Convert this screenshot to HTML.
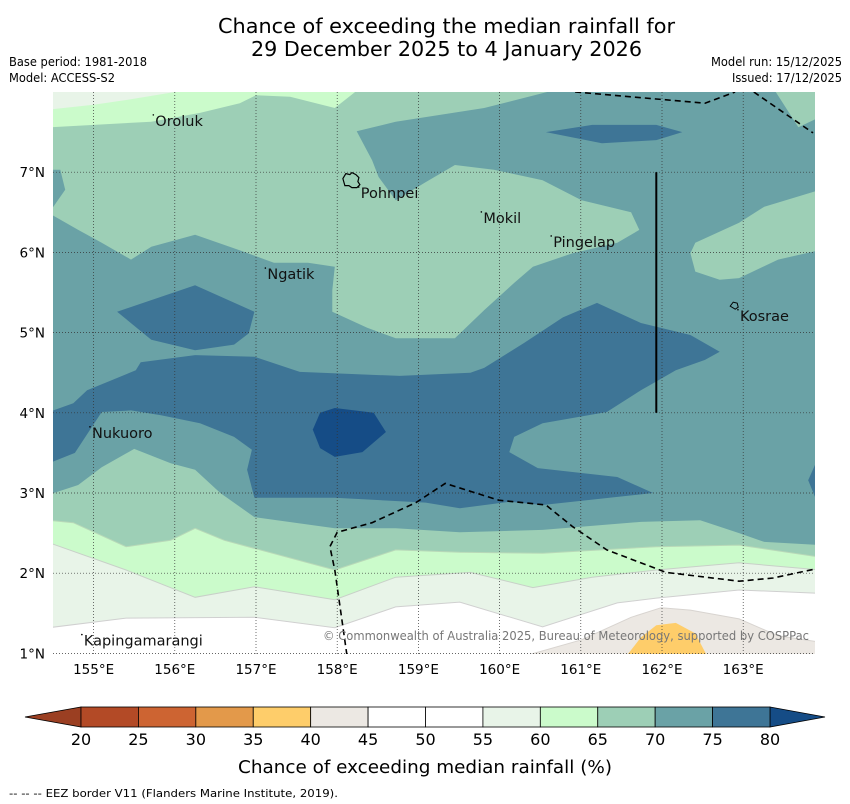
<!DOCTYPE html>
<html><head><meta charset="utf-8">
<style>
html,body{margin:0;padding:0;background:#fff;}
svg{display:block;font-family:"DejaVu Sans","Liberation Sans",sans-serif;}
</style></head>
<body>
<svg id="chart" width="850" height="804" viewBox="0 0 850 804">
<defs><clipPath id="mapclip"><rect x="53" y="92" width="762" height="562"/></clipPath></defs>
<text x="218" y="33" textLength="457" lengthAdjust="spacingAndGlyphs" font-size="20" fill="#000">Chance of exceeding the median rainfall for</text>
<text x="251" y="56" textLength="391" lengthAdjust="spacingAndGlyphs" font-size="20" fill="#000">29 December 2025 to 4 January 2026</text>
<text x="9" y="66" textLength="138" lengthAdjust="spacingAndGlyphs" font-size="12" fill="#000">Base period: 1981-2018</text>
<text x="9" y="82" textLength="106" lengthAdjust="spacingAndGlyphs" font-size="12" fill="#000">Model: ACCESS-S2</text>
<text x="711" y="66" textLength="131" lengthAdjust="spacingAndGlyphs" font-size="12" fill="#000">Model run: 15/12/2025</text>
<text x="732" y="82" textLength="110" lengthAdjust="spacingAndGlyphs" font-size="12" fill="#000">Issued: 17/12/2025</text>
<g id="map" clip-path="url(#mapclip)"></g>
<g id="overlay"></g>
<g id="cbar"></g>
<text x="238" y="773" textLength="374" lengthAdjust="spacingAndGlyphs" font-size="18" fill="#000">Chance of exceeding median rainfall (%)</text>
<text x="9" y="797" textLength="329" lengthAdjust="spacingAndGlyphs" font-size="11" fill="#000">--  --  -- EEZ border V11 (Flanders Marine Institute, 2019).</text>
</svg>
<script>
// ---- data ----
const lonTicks = [155,156,157,158,159,160,161,162,163];
const latTicks = [1,2,3,4,5,6,7];
const cbLevels = [20,25,30,35,40,45,50,55,60,65,70,75,80];
const cbColors = ["#b34a26","#cd6432","#e3994a","#fecd6a","#ece8e3","#ffffff","#ffffff","#e8f4e8","#cbfbcb","#9dcfb6","#6aa2a6","#3e7596"];
const cbUnder = "#9b3f22";
const cbOver = "#154c86";
const band70Base = "#6aa2a6";
const band65Top = [[154.5,8.05],[160.78,8.05],[159.81,7.80],[158.72,7.63],[158.24,7.51],[158.43,7.15],[158.51,6.94],[158.72,6.65],[159.08,6.87],[159.45,7.09],[159.93,7.03],[160.53,6.90],[161.01,6.65],[161.62,6.50],[161.72,6.28],[161.45,6.12],[160.90,5.99],[160.41,5.82],[160.18,5.62],[159.81,5.28],[159.45,4.93],[158.72,4.93],[158.37,5.06],[157.94,5.26],[157.94,5.53],[157.97,5.82],[157.64,5.87],[157.22,5.87],[156.79,6.03],[156.25,6.22],[155.71,6.07],[155.46,5.91],[155.10,6.12],[154.81,6.28],[154.45,6.49],[154.65,6.78],[154.59,7.03],[154.45,7.03]];
const band65Right = [[163.95,6.78],[163.26,6.57],[162.95,6.37],[162.41,6.12],[162.35,5.99],[162.41,5.76],[162.71,5.66],[162.95,5.68],[163.43,5.91],[163.95,6.03]];
const band65Corner = [[163.37,8.05],[163.68,7.56],[163.95,7.69],[163.95,8.05]];
const band60TopLeft = [[154.45,8.05],[158.22,8.05],[158.22,8.0],[157.97,7.80],[157.42,7.94],[157.00,7.96],[156.80,7.86],[156.31,7.74],[155.71,7.63],[154.45,7.56]];
const band55TopLeft = [[154.45,8.05],[156.0,8.05],[156.0,8.0],[155.4,7.90],[155.0,7.84],[154.45,7.78]];
const band75Top = [[160.57,7.50],[161.14,7.59],[161.93,7.59],[162.25,7.50],[161.93,7.40],[161.26,7.36]];
const band75Left = [[155.29,5.26],[156.25,5.59],[156.98,5.26],[156.91,4.99],[156.73,4.85],[156.25,4.78],[155.71,4.91]];
const band75Main = [[154.45,4.01],[154.75,4.12],[154.92,4.28],[155.52,4.53],[155.58,4.63],[156.25,4.72],[156.98,4.70],[157.54,4.51],[158.77,4.46],[159.64,4.50],[159.81,4.56],[160.30,4.87],[160.78,5.19],[161.20,5.37],[161.74,5.12],[162.35,4.97],[162.71,4.76],[162.53,4.66],[162.17,4.53],[161.74,4.28],[161.32,4.01],[160.53,3.87],[160.18,3.70],[160.12,3.51],[160.47,3.31],[161.45,3.20],[161.89,3.00],[160.53,2.85],[160.12,2.89],[159.51,2.81],[159.09,2.88],[157.97,2.94],[156.98,2.94],[156.89,3.29],[156.95,3.54],[156.73,3.70],[156.31,3.87],[155.83,3.97],[155.46,4.03],[155.10,4.01],[154.77,3.50],[154.45,3.37]];
const band75Edge = [[163.95,3.50],[163.80,3.16],[163.95,2.79]];
const band80 = [[157.70,3.79],[157.79,4.00],[157.97,4.06],[158.45,4.00],[158.60,3.76],[158.31,3.51],[157.97,3.45],[157.79,3.56]];
const low65 = [[154.45,2.98],[154.81,3.10],[155.10,3.32],[155.50,3.55],[155.95,3.37],[156.25,3.29],[156.56,3.00],[156.98,2.70],[157.97,2.56],[158.72,2.56],[159.51,2.51],[160.53,2.54],[161.74,2.64],[162.47,2.66],[162.95,2.50],[163.26,2.39],[163.95,2.35],[163.95,0.9],[154.45,0.9]];
const low60 = [[154.45,2.66],[154.75,2.63],[155.40,2.33],[155.95,2.41],[156.25,2.56],[156.61,2.41],[157.97,2.04],[158.72,2.29],[159.51,2.26],[160.53,2.25],[161.93,2.33],[162.95,2.35],[163.95,2.20],[163.95,0.9],[154.45,0.9]];
const low55 = [[154.45,2.38],[155.40,2.04],[156.25,1.70],[156.98,1.83],[157.97,1.67],[158.72,1.95],[159.64,2.01],[160.41,1.82],[161.14,1.95],[161.93,2.04],[162.95,2.13],[163.95,2.04],[163.95,0.9],[154.45,0.9]];
const low45 = [[154.45,1.32],[155.40,1.44],[156.98,1.45],[157.97,1.32],[158.72,1.58],[159.51,1.64],[160.53,1.33],[161.45,1.63],[161.93,1.69],[162.95,1.79],[163.95,1.75],[163.95,0.9],[154.45,0.9]];
const low40 = [[160.35,0.9],[160.35,0.98],[161.01,1.17],[161.62,1.45],[161.99,1.57],[162.35,1.54],[162.95,1.43],[163.43,1.22],[163.95,1.14],[163.95,0.9]];
const low35 = [[161.51,0.9],[161.74,1.20],[161.93,1.35],[162.17,1.38],[162.41,1.25],[162.59,0.9]];
const eezTop = [[160.93,8.0],[162.53,7.86],[162.9,8.0]];
const eezRight = [[163.13,8.0],[163.86,7.49]];
const eezLower = [[158.12,0.98],[157.97,2.04],[157.91,2.33],[158.00,2.51],[158.43,2.63],[158.97,2.88],[159.33,3.12],[159.99,2.91],[160.57,2.85],[160.90,2.58],[161.32,2.29],[162.05,2.01],[162.95,1.90],[163.37,1.94],[163.92,2.06]];
const boundaryLine = [[161.93,7.0],[161.93,4.0]];
const placeNames = ["Oroluk","Pohnpei","Mokil","Pingelap","Ngatik","Kosrae","Nukuoro","Kapingamarangi"];
const placeLon = [155.76,158.29,159.80,160.66,157.14,162.96,154.98,154.88];
const placeLat = [7.64,6.74,6.43,6.13,5.73,5.21,3.75,1.16];

// ---- axes ----
const X = lon => 53 + (lon - 154.5) * 81.2;
const Y = lat => 92 + (8 - lat) * 80.2;
const CB = lv => 81 + (lv - 20) / 60 * 689;
const NS = "http://www.w3.org/2000/svg";
function mk(tag, attrs, parent){const e=document.createElementNS(NS,tag);for(const k in attrs)e.setAttribute(k,attrs[k]);parent.appendChild(e);return e;}
const pts = arr => arr.map(p => X(p[0]).toFixed(1)+","+Y(p[1]).toFixed(1)).join(" ");
const map = document.getElementById("map");
const ov = document.getElementById("overlay");
const cb = document.getElementById("cbar");

let el = mk("rect",{x:53,y:92,width:762,height:562,fill:band70Base},map);



const layers = [
 [band65Top,"#9dcfb6","band-65-70-north",null],
 [band60TopLeft,"#cbfbcb","band-60-65-northwest",null],
 [band55TopLeft,"#e8f4e8","band-55-60-northwest",null],
 [band65Right,"#9dcfb6","band-65-70-east",null],
 [band65Corner,"#9dcfb6","band-65-70-northeast",null],
 [band75Top,"#3e7596","band-75-80-north",null],
 [band75Left,"#3e7596","band-75-80-west",null],
 [band75Main,"#3e7596","band-75-80-central",null],
 [band75Edge,"#3e7596","band-75-80-east-edge",null],
 [band80,"#154c86","band-80-plus",null],
 [low65,"#9dcfb6","band-65-70-south",null],
 [low60,"#cbfbcb","band-60-65-south","#b8d8b8"],
 [low55,"#e8f4e8","band-55-60-south","#c8d0c8"],
 [low45,"#ffffff","band-45-55-south","#d0d0d0"],
 [low40,"#ece8e3","band-40-45-south","#d8d4d0"],
 [low35,"#fecd6a","band-35-40-south",null]
];
for (const L of layers){
  const a = {points:pts(L[0]), fill:L[1]};
  if (L[3]) { a.stroke = L[3]; a["stroke-width"] = 1; }
  el = mk("polygon",a,map);
  
  
}

for (const lo of lonTicks){
  el = mk("line",{x1:X(lo),x2:X(lo),y1:92,y2:654,stroke:"#333","stroke-width":0.7,"stroke-dasharray":"1,2"},map);
  
  
  el = mk("text",{x:X(lo),y:674,"text-anchor":"middle","font-size":13.5,fill:"#000"},ov);
  el.textContent = lo + "°E";
  
  
}
for (const la of latTicks){
  el = mk("line",{x1:53,x2:815,y1:Y(la),y2:Y(la),stroke:"#333","stroke-width":0.7,"stroke-dasharray":"1,2"},map);
  
  
  el = mk("text",{x:45,y:Y(la)+5,"text-anchor":"end","font-size":13.5,fill:"#000"},ov);
  el.textContent = la + "°N";
  
  
}

for (const [arr,nm] of [[eezTop,"eez-border-north"],[eezRight,"eez-border-northeast"],[eezLower,"eez-border-south"]]){
  el = mk("polyline",{points:pts(arr),fill:"none",stroke:"#000","stroke-width":1.6,"stroke-dasharray":"6,4"},map);
  
  
}
el = mk("polyline",{points:pts(boundaryLine),fill:"none",stroke:"#000","stroke-width":2},map);



el = mk("path",{d:`M${X(158.07)},${Y(6.92)} l3,-5 l4,1 l2,-2 l4,2 l3,3 l-1,4 l2,3 l-3,3 l-5,0 l-3,-2 l-4,0 z`,fill:"none",stroke:"#000","stroke-width":1.2},map);


el = mk("path",{d:`M${X(162.84)},${Y(5.33)} l3,-4 l4,1 l1,4 l-3,2 z`,fill:"none",stroke:"#000","stroke-width":1},map);



placeNames.forEach((n,i)=>{
  el = mk("text",{x:X(placeLon[i]),y:Y(placeLat[i])+5,"font-size":14.5,fill:"#111"},map);
  el.textContent = n;
  
  
  el = mk("circle",{cx:X(placeLon[i])-2,cy:Y(placeLat[i])-6,r:0.8,fill:"#000"},map);
  
  
});

el = mk("text",{x:323,y:640,textLength:486,lengthAdjust:"spacingAndGlyphs","font-size":12,fill:"#777"},map);
el.textContent = "© Commonwealth of Australia 2025, Bureau of Meteorology, supported by COSPPac";



el = mk("polygon",{points:`25,717 ${CB(20)},707 ${CB(20)},727`,fill:cbUnder,stroke:"#000","stroke-width":0.8},cb);


el = mk("polygon",{points:`${CB(80)},707 825,717 ${CB(80)},727`,fill:cbOver,stroke:"#000","stroke-width":0.8},cb);


for (let i=0;i<cbColors.length;i++){
  el = mk("rect",{x:CB(cbLevels[i]),y:707,width:CB(cbLevels[i+1])-CB(cbLevels[i]),height:20,fill:cbColors[i],stroke:"#000","stroke-width":0.8},cb);
  
  
}
for (const lv of cbLevels){
  el = mk("text",{x:CB(lv),y:745,"text-anchor":"middle","font-size":16,fill:"#000"},cb);
  el.textContent = lv;
  
  
}
</script>
</body></html>
